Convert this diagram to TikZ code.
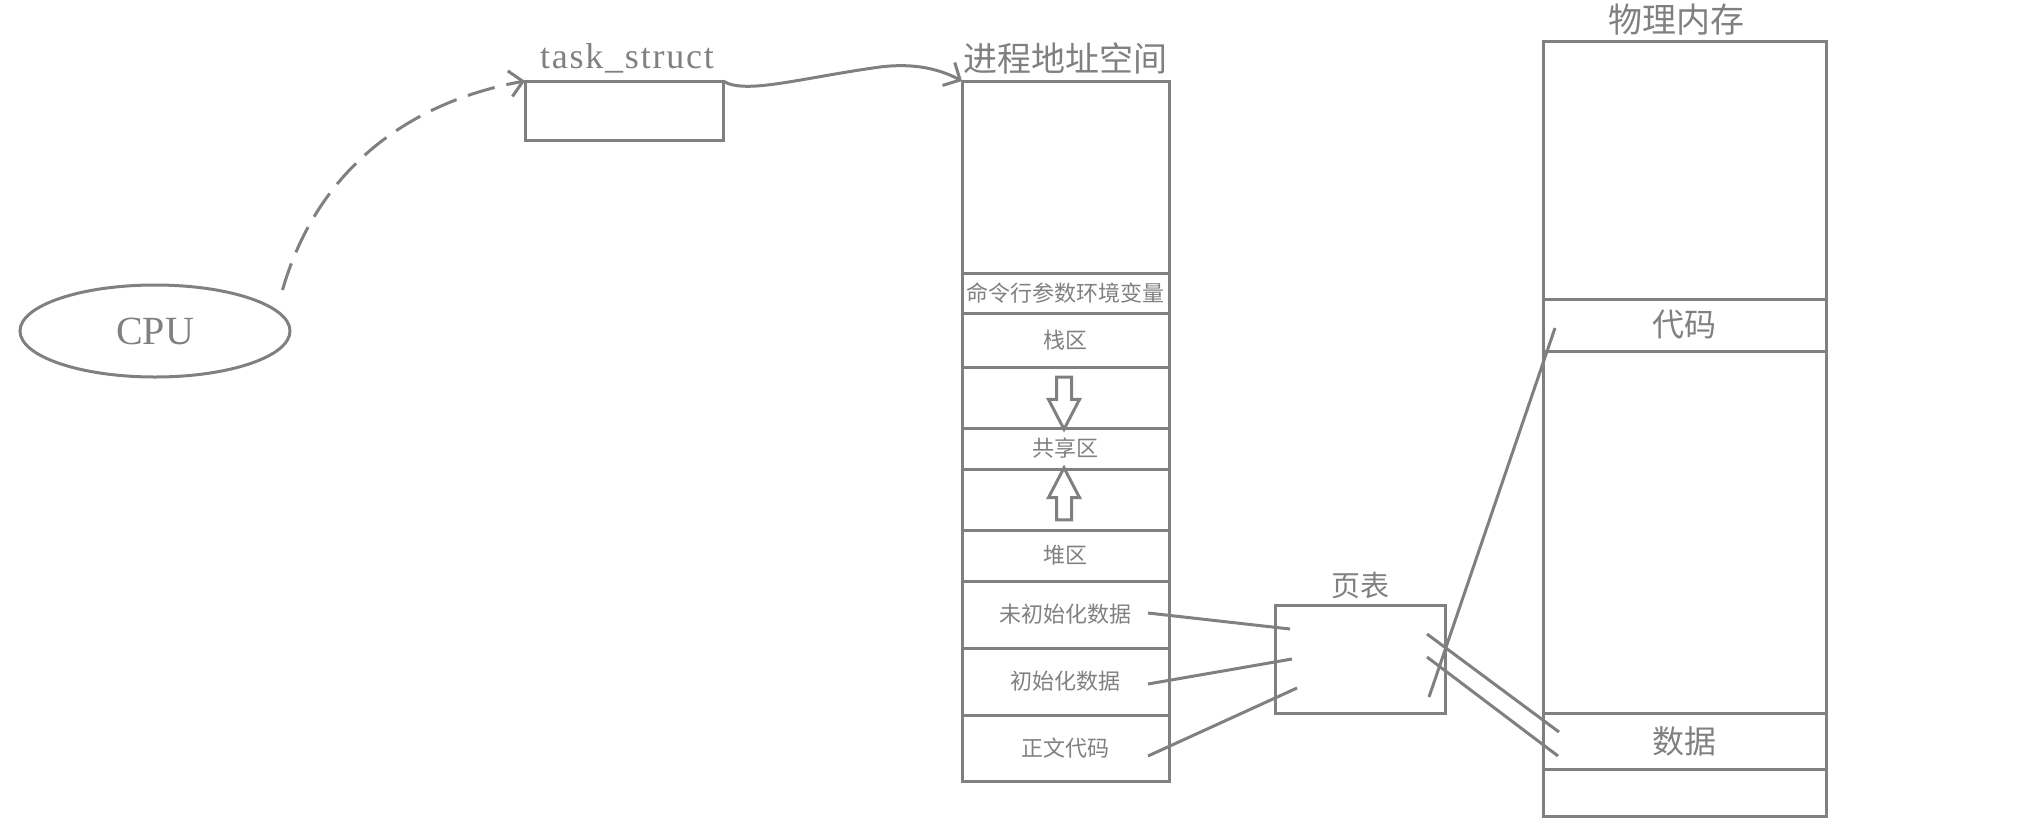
\documentclass[tikz,border=0pt]{standalone}
\usepackage{fontspec}
\newfontfamily\cjk{Noto Sans CJK SC}
\newfontfamily\latinfont{Liberation Serif}
\newfontfamily\latinspaced{Liberation Serif}[LetterSpace=5]
\usepackage{tikz}
\usetikzlibrary{arrows,arrows.meta}
\usetikzlibrary{shapes,positioning,calc}
\definecolor{memgray}{RGB}{128,128,128}
\tikzset{
  seg/.style={draw=memgray,line width=3pt,rectangle,outer sep=0pt,inner sep=0pt,
    minimum width=207pt,text=memgray,font=\cjk\fontsize{22}{24}\selectfont},
  pseg/.style={seg,minimum width=283pt,font=\cjk\fontsize{32}{36}\selectfont},
  title/.style={text=memgray,inner sep=0pt,font=\cjk\fontsize{34}{38}\selectfont},
  link/.style={draw=memgray,line width=3pt},
  dirarrow/.style={single arrow,draw=memgray,line width=3pt,inner sep=6pt,minimum width=28pt,
    minimum height=52pt,single arrow head extend=8pt,single arrow tip angle=55},
  barb/.style={-{Straight Barb[length=13pt,width=26pt]}}
}
\begin{document}
\begin{tikzpicture}[x=1pt,y=-1pt]
\useasboundingbox (0,0) rectangle (2021,833);

% cpu and task_struct
\node[ellipse,draw=memgray,line width=3pt,minimum width=270pt,minimum height=92pt,
  text=memgray,font=\latinfont\fontsize{40}{44}\selectfont] (cpu) at (155,331) {CPU};
\node[seg,minimum width=198pt,minimum height=59pt] (task) at (624,110.5) {};
\node[text=memgray,anchor=base,
  font=\latinspaced\fontsize{36}{40}\selectfont] (tasklbl) at (627,68) {task\_struct};

% process address space
\node[seg,anchor=north west,minimum height=192pt] (vtop) at (962,81) {};
\node[seg,below=0pt of vtop,minimum height=40pt] (args) {命令行参数环境变量};
\node[seg,below=0pt of args,minimum height=54pt] (stack) {栈区};
\node[seg,below=0pt of stack,minimum height=61pt] (gapdown) {};
\node[seg,below=0pt of gapdown,minimum height=41pt] (shared) {共享区};
\node[seg,below=0pt of shared,minimum height=61pt] (gapup) {};
\node[seg,below=0pt of gapup,minimum height=51pt] (heap) {堆区};
\node[seg,below=0pt of heap,minimum height=67pt] (bss) {未初始化数据};
\node[seg,below=0pt of bss,minimum height=67pt] (idata) {初始化数据};
\node[seg,below=0pt of idata,minimum height=66pt] (code) {正文代码};
\node[title,above=7pt of vtop] (vlbl) {进程地址空间};
\node[dirarrow,rotate=-90] (stackdir) at ($(gapdown)+(-1.5,-1.5)$) {};
\node[dirarrow,rotate=90] (heapdir) at ($(gapup)+(-1.5,1.5)$) {};

% page table
\node[seg,minimum width=170pt,minimum height=108pt] (pagetab) at (1360,659) {};
\node[title,font=\cjk\fontsize{29}{32}\selectfont,above=6pt of pagetab] (tlbl) {页表};

% physical memory
\node[pseg,anchor=north west,minimum height=258pt] (ptop) at (1543,41) {};
\node[pseg,below=0pt of ptop,minimum height=52pt] (pcode) {代码};
\node[pseg,below=0pt of pcode,minimum height=362pt] (pmid) {};
\node[pseg,below=0pt of pmid,minimum height=56pt] (pdata) {数据};
\node[pseg,below=0pt of pdata,minimum height=47pt] (pbot) {};
\node[title,above=6pt of ptop,xshift=-8pt] (plbl) {物理内存};

% connector ends
\coordinate (cpuout) at ($(cpu.east)+(-9,-41)$);
\coordinate (a1) at ($(bss.east)+(-21,-1.5)$);
\coordinate (a2) at ($(idata.east)+(-21,2.5)$);
\coordinate (a3) at ($(code.east)+(-21,8)$);
\coordinate (b1) at ($(pagetab.west)+(15,-30)$);
\coordinate (b2) at ($(pagetab.west)+(17,0)$);
\coordinate (b3) at ($(pagetab.west)+(22,29)$);
\coordinate (c1) at ($(pagetab.east)+(-18,-25)$);
\coordinate (c2) at ($(pagetab.east)+(-18,-2)$);
\coordinate (c3) at ($(pagetab.east)+(-16,38)$);
\coordinate (d1) at ($(pdata.west)+(16,-9)$);
\coordinate (d2) at ($(pdata.west)+(15,15)$);
\coordinate (d3) at ($(pcode.west)+(12,3)$);

\draw[link,barb,dash pattern=on 28pt off 12pt] (cpuout) .. controls (320,160) and (420,100) .. (task.north west);
\draw[link,barb] (task.north east) .. controls (745,95) and (800,78) .. (880,67)
  .. controls (920,62) and (945,72) .. (vtop.north west);
\draw[link] (a1) -- (b1);
\draw[link] (a2) -- (b2);
\draw[link] (a3) -- (b3);
\draw[link] (c1) -- (d1);
\draw[link] (c2) -- (d2);
\draw[link] (c3) -- (d3);
\end{tikzpicture}
\end{document}
